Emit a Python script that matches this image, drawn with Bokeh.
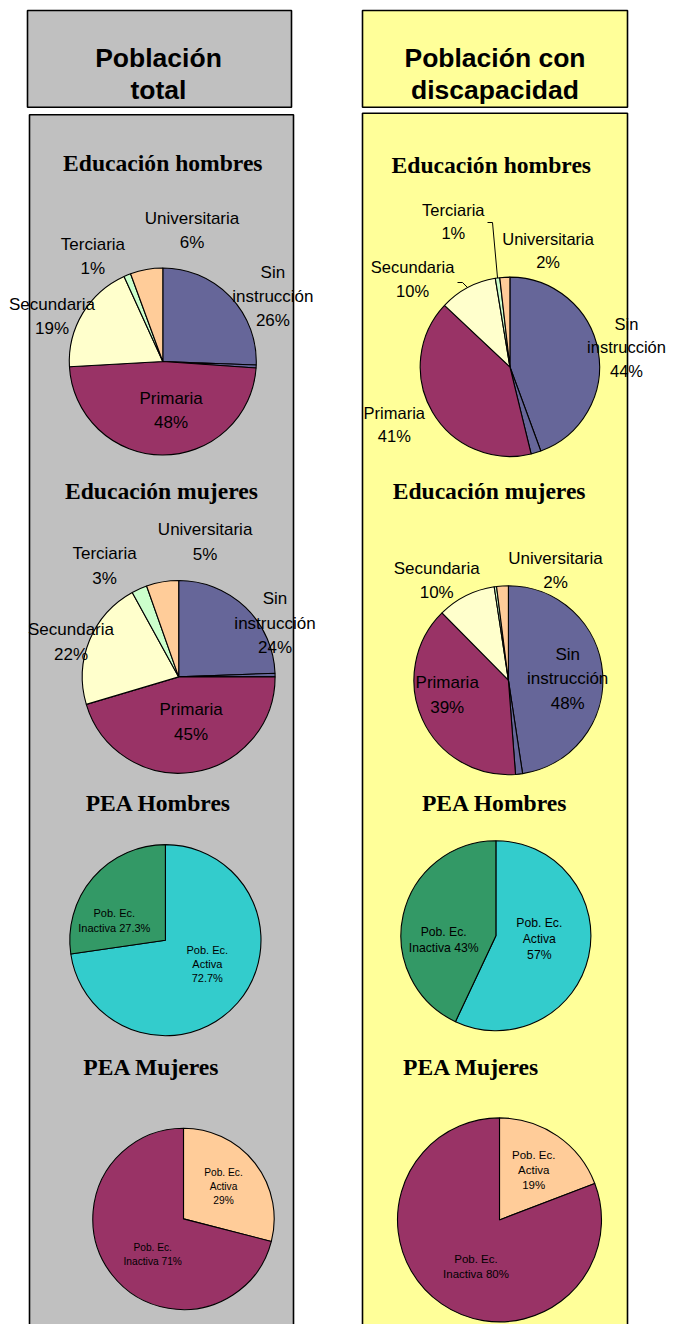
import math
from bokeh.plotting import figure
from bokeh.models import Range1d, ColumnDataSource
from bokeh.embed import file_html
from bokeh.resources import INLINE
from bokeh.core.properties import value

# ---------------- data ----------------
header_left = ["Población", "total"]
header_right = ["Población con", "discapacidad"]
chart_titles = ["Educación hombres", "Educación mujeres", "PEA Hombres", "PEA Mujeres"]

edu_categories = ["Sin instrucción", "Otros", "Primaria", "Secundaria", "Terciaria", "Universitaria"]
edu_colors = ["#666699", "#666699", "#993366", "#FFFFCC", "#CCFFCC", "#FFCC99"]
edu_hombres_total = [25.6, 0.5, 48.0, 19.1, 1.2, 5.6]
edu_mujeres_total = [24.4, 0.6, 45.4, 21.6, 2.6, 5.4]
edu_hombres_disc = [44.4, 1.8, 40.8, 10.4, 0.8, 1.8]
edu_mujeres_disc = [47.6, 1.2, 38.8, 10.0, 0.4, 2.0]

pea_categories = ["Pob. Ec. Activa", "Pob. Ec. Inactiva"]
pea_hombres_colors = ["#33CCCC", "#339966"]
pea_mujeres_colors = ["#FFCC99", "#993366"]
pea_hombres_total = [72.7, 27.3]
pea_mujeres_total = [29, 71]
pea_hombres_disc = [57, 43]
pea_mujeres_disc = [19, 80]

# ---------------- layout (picture pixel coordinates) ----------------
W, H = 668, 1324
PAGE_H = 1340
X0 = 0  # picture x of the figure's left edge


def Y(y):
    return PAGE_H - y


GRAY = "#C0C0C0"
YELLOW = "#FFFF99"

charts = [
    dict(kind="edu", vals=edu_hombres_total, cats=edu_categories, colors=edu_colors,
         c=(162.3, 361), r=93.5, title=(0, 162.3, 162.7), fs=17, gap=24,
         labels={"Universitaria": (191.5, 218), "Terciaria": (92.4, 244), "Secundaria": (51.5, 304),
                 "Sin instrucción": (272.4, 272), "Primaria": (170.6, 397.7)}),
    dict(kind="edu", vals=edu_mujeres_total, cats=edu_categories, colors=edu_colors,
         c=(178.2, 676.4), r=96.4, title=(1, 160.9, 490.7), fs=17, gap=24.5,
         labels={"Universitaria": (204.6, 529.3), "Terciaria": (104.1, 553.3), "Secundaria": (70.5, 629),
                 "Sin instrucción": (274.5, 598.3), "Primaria": (190.6, 709.3)}),
    dict(kind="edu", vals=edu_hombres_disc, cats=edu_categories, colors=edu_colors,
         c=(509.4, 366.3), r=89.7, title=(0, 490.8, 164.3), fs=16.5, gap=23.4,
         labels={"Terciaria": (452.8, 209.3), "Universitaria": (547.6, 238.3), "Secundaria": (412.1, 266.7),
                 "Sin instrucción": (626, 323.3), "Primaria": (393.8, 412.3)},
         leaders={"Terciaria": (487, 222, 492), "Secundaria": (457, 282, 462)}),
    dict(kind="edu", vals=edu_mujeres_disc, cats=edu_categories, colors=edu_colors,
         c=(507.9, 679.7), r=94.5, title=(1, 488.6, 490.7), fs=17, gap=24.3,
         labels={"Secundaria": (436.2, 567.7), "Universitaria": (555, 557.7),
                 "Sin instrucción": (567.2, 654), "Primaria": (446.7, 682.3)}),
    dict(kind="pea", vals=pea_hombres_total, cats=pea_categories, colors=pea_hombres_colors,
         c=(164.9, 939.7), r=95.6, title=(2, 158, 802), fs=11, gap=14.2,
         labels={"Pob. Ec. Inactiva": (113.8, 912.9), "Pob. Ec. Activa": (206.8, 949.1)}),
    dict(kind="pea", vals=pea_hombres_disc, cats=pea_categories, colors=pea_hombres_colors,
         c=(495.4, 935.2), r=95, title=(2, 494.3, 802), fs=12.2, gap=16,
         labels={"Pob. Ec. Inactiva": (443.2, 931.5), "Pob. Ec. Activa": (538.8, 922.2)}),
    dict(kind="pea", vals=pea_mujeres_total, cats=pea_categories, colors=pea_mujeres_colors,
         c=(183, 1218.4), r=90.7, title=(3, 151, 1066), fs=10.2, gap=14,
         labels={"Pob. Ec. Activa": (223, 1171.9), "Pob. Ec. Inactiva": (152.2, 1247)}),
    dict(kind="pea", vals=pea_mujeres_disc, cats=pea_categories, colors=pea_mujeres_colors,
         c=(499, 1219.4), r=102, title=(3, 470.8, 1066), fs=11.5, gap=15,
         labels={"Pob. Ec. Activa": (533.2, 1154.7), "Pob. Ec. Inactiva": (475.5, 1258.7)}),
]

p = figure(width=W, height=H, x_range=Range1d(X0, X0 + W), y_range=Range1d(PAGE_H - H, PAGE_H),
           output_backend="svg", toolbar_location=None, x_axis_type=None, y_axis_type=None,
           min_border=0)
p.grid.visible = False
p.outline_line_color = None
p.background_fill_color = "white"
p.border_fill_color = "white"

# header boxes and column panels
p.quad(left=[27, 362], right=[291, 627], top=[Y(10), Y(10)], bottom=[Y(106.7), Y(106.7)],
       fill_color=[GRAY, YELLOW], line_color="black", line_width=1.6)
p.quad(left=[29, 362], right=[293, 627], top=[Y(114.3), Y(112.7)], bottom=[Y(1360), Y(1360)],
       fill_color=[GRAY, YELLOW], line_color="black", line_width=1.6)

hx, hy, ht = [], [], []
for cx, lines in ((158, header_left), (494.5, header_right)):
    for i, t in enumerate(lines):
        hx.append(cx)
        hy.append(Y(57.3 + i * 31.7))
        ht.append(t)
p.text(x=hx, y=hy, text=ht, text_font=value("Liberation Sans"), text_font_style="bold",
       text_font_size=value("26.5px"), text_align="center", text_baseline="middle", text_color="black")

# pies
for ch in charts:
    cx, cy = ch["c"]
    tot = float(sum(ch["vals"]))
    starts, ends = [], []
    cum = 0.0
    for v in ch["vals"]:
        starts.append(math.pi / 2 - 2 * math.pi * cum / tot)
        cum += v
        ends.append(math.pi / 2 - 2 * math.pi * cum / tot)
    src = ColumnDataSource(dict(x=[cx] * len(starts), y=[Y(cy)] * len(starts), s=starts, e=ends,
                                color=ch["colors"]))
    p.wedge(x="x", y="y", radius=ch["r"], start_angle="s", end_angle="e", direction="clock",
            fill_color="color", line_color="black", line_width=1.1, source=src)

    # title
    ti, tx, ty = ch["title"]
    p.text(x=[tx], y=[Y(ty)], text=[chart_titles[ti]], text_font=value("Liberation Serif"),
           text_font_style="bold", text_font_size=value("23.6px"), text_align="center",
           text_baseline="middle", text_color="black")

    # labels
    lx, ly, lt = [], [], []
    for cat, v in zip(ch["cats"], ch["vals"]):
        if cat not in ch["labels"]:
            continue
        if ch["kind"] == "edu":
            pct = f"{100 * v / tot:.0f}%"
            lines = ["Sin", "instrucción", pct] if cat == "Sin instrucción" else [cat, pct]
        else:
            pct = f"{v:g}%"
            lines = ["Pob. Ec.", "Activa", pct] if cat.endswith("Activa") else ["Pob. Ec.", "Inactiva " + pct]
        x0, y0 = ch["labels"][cat]
        for i, t in enumerate(lines):
            lx.append(x0)
            ly.append(Y(y0 + i * ch["gap"]))
            lt.append(t)
    p.text(x=lx, y=ly, text=lt, text_font=value("Liberation Sans"), text_font_size=value(f"{ch['fs']}px"),
           text_align="center", text_baseline="middle", text_color="black")

    # leader lines to slice mid-angle on the rim
    for cat, (x0, y0, x1) in ch.get("leaders", {}).items():
        k = ch["cats"].index(cat)
        mid = (starts[k] + ends[k]) / 2
        ex = cx + ch["r"] * math.cos(mid)
        ey = Y(cy) + ch["r"] * math.sin(mid)
        p.line(x=[x0, x1, ex], y=[Y(y0), Y(y0), ey], line_color="black", line_width=1)

open("out.html", "w").write(file_html(p, INLINE))
